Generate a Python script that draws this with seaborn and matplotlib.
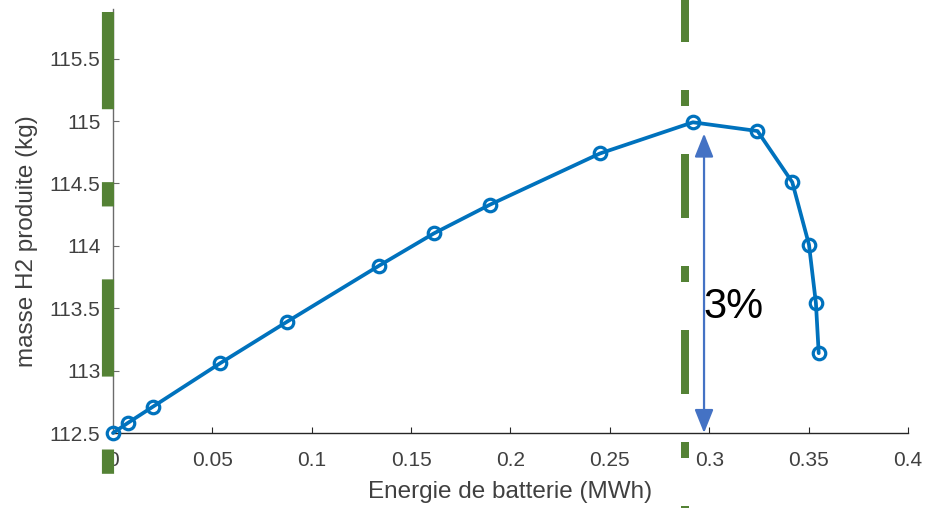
import numpy as np
import pandas as pd
import matplotlib
matplotlib.use('Agg')
from matplotlib import pyplot as plt
from matplotlib import transforms
import seaborn as sns

# energie de batterie (MWh) -> masse H2 produite (kg)
energie = [0.0, 0.0074, 0.020, 0.054, 0.0874, 0.1338, 0.1615, 0.1897,
           0.245, 0.2918, 0.3243, 0.3418, 0.3502, 0.3537, 0.3551]
masse = [112.50, 112.58, 112.71, 113.06, 113.39, 113.84, 114.10, 114.33,
         114.74, 114.99, 114.92, 114.51, 114.01, 113.54, 113.14]

x_ticks = [0, 0.05, 0.1, 0.15, 0.2, 0.25, 0.3, 0.35, 0.4]
x_labels = ['0', '0.05', '0.1', '0.15', '0.2', '0.25', '0.3', '0.35', '0.4']
y_ticks = [112.5, 113, 113.5, 114, 114.5, 115, 115.5]
y_labels = ['112.5', '113', '113.5', '114', '114.5', '115', '115.5']

# green dash-dot markers and the 3% arrow
repere_x = [-0.0024, 0.2878]
fleche_x = 0.2974
fleche_y = [114.90, 112.5]
ecart_label = '3%'

sns.set_theme(style='white')
plt.rcParams['font.family'] = ['Liberation Sans', 'DejaVu Sans']

fig = plt.figure(figsize=(9.26, 5.08), dpi=100)
ax = fig.add_axes([0.122, 0.1476, 0.8585, 0.8352])

df = pd.DataFrame({'energie': energie, 'masse': masse})
sns.lineplot(data=df, x='energie', y='masse', sort=False, ax=ax,
             color='#0072BD', linewidth=2.7, marker='o', markersize=9,
             markerfacecolor='none', markeredgecolor='#0072BD', markeredgewidth=2.3,
             clip_on=False, zorder=3)

ax.set_xlim(0, 0.4)
ax.set_ylim(112.5, 115.9)
ax.set_xticks(x_ticks)
ax.set_xticklabels(x_labels)
ax.set_yticks(y_ticks)
ax.set_yticklabels(y_labels)

for s in ['top', 'right']:
    ax.spines[s].set_visible(False)
ax.spines['left'].set_color('#6b6b6b')
ax.spines['bottom'].set_color('#262626')
ax.spines['left'].set_linewidth(1.0)
ax.spines['bottom'].set_linewidth(1.0)
ax.tick_params(axis='both', direction='in', length=4, width=0.8,
               labelsize=15, labelcolor='#404040',
               bottom=True, left=True, top=False, right=False)
ax.tick_params(axis='y', colors='#6b6b6b', labelcolor='#404040', pad=9)
ax.tick_params(axis='x', colors='#262626', labelcolor='#404040', pad=12.6)

ax.set_xlabel('Energie de batterie (MWh)', fontsize=17.5, color='#404040', labelpad=8.3)
ax.set_ylabel('masse H2 produite (kg)', fontsize=17.5, color='#404040')
ax.yaxis.set_label_coords(-0.094, 0.4525)

trans = transforms.blended_transform_factory(ax.transData, ax.transAxes)
ax.plot([repere_x[0]] * 2, [0.9928, -0.1013], transform=trans, color='#548235',
        linewidth=8.75, linestyle=(0, (8, 6, 2, 6)), solid_capstyle='butt',
        dash_capstyle='butt', clip_on=False, zorder=6)
ax.plot([repere_x[1]] * 2, [1.0205, -0.205], transform=trans, color='#548235',
        linewidth=5.76, linestyle=(2.75, (8, 6, 2, 6)), solid_capstyle='butt',
        dash_capstyle='butt', clip_on=False, zorder=6)

ax.annotate('', xy=(fleche_x, fleche_y[1]), xytext=(fleche_x, fleche_y[0]),
            arrowprops=dict(arrowstyle='<|-|>,head_length=1.2,head_width=0.48',
                            color='#4472C4', lw=1.6, mutation_scale=12,
                            shrinkA=0, shrinkB=0),
            annotation_clip=False, zorder=7)
ax.text(fleche_x - 0.0005, 113.51, ecart_label, fontsize=30, color='black',
        ha='left', va='center', zorder=8)

fig.savefig('out.png', dpi=100)
